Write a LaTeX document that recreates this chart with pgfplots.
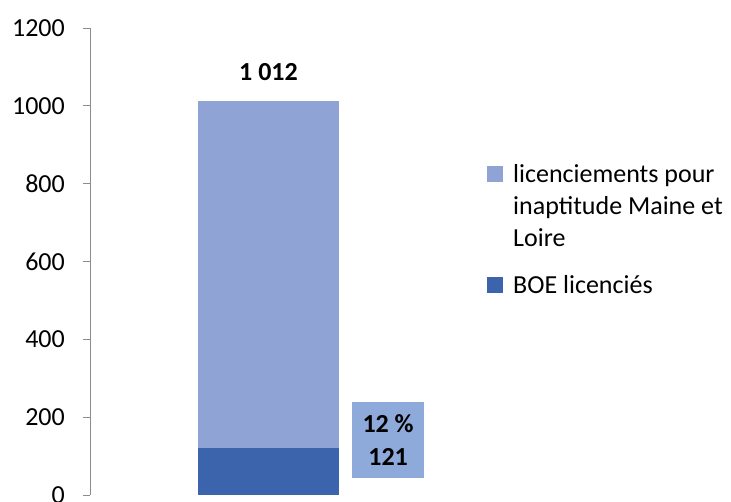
\documentclass[border=0pt]{standalone}
\usepackage{pgfplots}
\pgfplotsset{compat=1.18}
\usepackage{fontspec}
\setmainfont{Carlito}
\definecolor{lightb}{HTML}{8FA4D4}
\definecolor{darkb}{HTML}{3B64AD}
\definecolor{boxc}{HTML}{8EAADB}
\definecolor{axgray}{HTML}{8C8C8C}
\begin{document}
\fontsize{26bp}{32bp}\selectfont
\begin{tikzpicture}[x=1bp,y=1bp]
\useasboundingbox (0,0) rectangle (731,502);
\begin{axis}[
  at={(90bp,7bp)}, anchor=south west,
  scale only axis, width=357bp, height=467bp,
  xmin=-0.5, xmax=0.5, ymin=0, ymax=1200,
  ytick={0,200,...,1200},
  axis y line*=left, axis x line=none,
  y axis line style={draw=axgray, line width=0.8bp},
  ytick style={draw=axgray, line width=0.8bp},
  tick align=outside, major tick length=7bp,
  yticklabel style={inner sep=0pt, xshift=-18bp},
  /pgf/number format/assume math mode=true,
  /pgf/number format/1000 sep={},
  ybar, bar width=141bp, bar shift=0pt,
  legend style={draw=none, fill=none, inner sep=0pt,
    at={(1.112,0.709)}, anchor=north west,
    row sep=25bp, column sep=10bp,
    nodes={inner sep=0pt}, cells={anchor=base west}},
]
\addplot[fill=lightb, draw=none,
  legend image code/.code={\fill[lightb] (0bp,64bp) rectangle (16bp,80bp);}] coordinates {(0,1012)};
\addlegendentry{\parbox[b]{222bp}{\raggedright licenciements pour inaptitude Maine et Loire}}
\addplot[fill=darkb, draw=none,
  legend image code/.code={\fill[darkb] (0bp,0bp) rectangle (16bp,16bp);}] coordinates {(0,121)};
\addlegendentry{BOE licenciés}
\node[font=\bfseries, anchor=base, yshift=21bp] at (axis cs:0,1012) {1 012};
\node[fill=boxc, minimum width=72bp, minimum height=76bp, inner sep=0pt, align=center, font=\bfseries] at (axis cs:0.335,141) {12 \%\\[1bp]121};
\end{axis}
\end{tikzpicture}
\end{document}
